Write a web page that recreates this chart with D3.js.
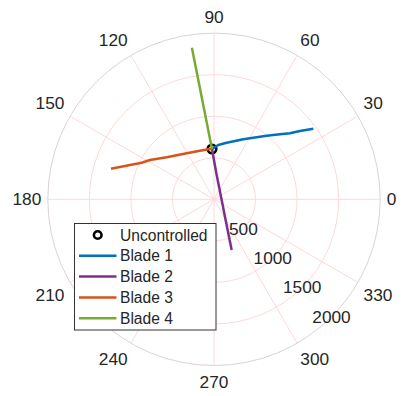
<!DOCTYPE html>
<html>
<head>
<meta charset="utf-8">
<script src="https://cdn.jsdelivr.net/npm/d3@7"></script>
<style>
	body { margin: 0; background: #fff; }
	text { font-family: "Liberation Sans", Arial, sans-serif; fill: #262626; }
</style>
</head>
<body>
<div id="wrapper"></div>
<script>
// data (theta in degrees, r in rpm-ish units)
const thetaTicks = [0, 30, 60, 90, 120, 150, 180, 210, 240, 270, 300, 330];
const rTicks = [500, 1000, 1500, 2000];

const uncontrolledTheta = [92.3];
const uncontrolledR = [606];

const blade1Theta = [92.3, 85.5, 77.4, 64.0, 50.4, 44.6, 41.0, 38.5, 35.4];
const blade1R = [606, 655, 698, 803, 994, 1115, 1211, 1321, 1466];

const blade2Theta = [92.3, 84.4, 2.3, 296.4, 289.2];
const blade2R = [606, 306, 90, 339, 646];

const blade3Theta = [92.3, 96.5, 106.1, 120.7, 138.4, 148.5, 153.2, 157.8, 163.5];
const blade3R = [606, 606, 609, 644, 761, 904, 975, 1092, 1293];

const blade4Theta = [92.3, 96.8, 98.3];
const blade4R = [606, 1222, 1843];

const seriesNames = ["Blade 1", "Blade 2", "Blade 3", "Blade 4"];
const seriesColors = ["#0072bd", "#7e2f8e", "#d95319", "#77ac30"];

function drawPolar() {

	// 1. dimensions
	const width = 402;
	const height = 396;
	const cx = 214;
	const cy = 199.3;
	const radius = 166.2;

	const svg = d3.select("#wrapper")
		.append("svg")
		.attr("width", width)
		.attr("height", height);

	const g = svg.append("g")
		.attr("transform", `translate(${cx},${cy})`);

	// 2. scales
	const rScale = d3.scaleLinear().domain([0, 2000]).range([0, radius]);
	const toRad = d => d * Math.PI / 180;

	// 3. grid
	g.selectAll(".ring")
		.data(rTicks.slice(0, -1))
		.enter()
		.append("circle")
		.attr("r", d => rScale(d))
		.attr("fill", "none")
		.attr("stroke", "#ffd8d8")
		.attr("stroke-width", 1);

	g.selectAll(".spoke")
		.data(thetaTicks)
		.enter()
		.append("line")
		.attr("x1", 0)
		.attr("y1", 0)
		.attr("x2", d => radius * Math.cos(toRad(d)))
		.attr("y2", d => -radius * Math.sin(toRad(d)))
		.attr("stroke", "#ffd8d8")
		.attr("stroke-width", 1);

	g.append("circle")
		.attr("r", radius)
		.attr("fill", "none")
		.attr("stroke", "#ddd2d5")
		.attr("stroke-width", 1);

	// theta labels
	const labelR = radius + 6.5;
	g.selectAll(".tlabel")
		.data(thetaTicks)
		.enter()
		.append("text")
		.attr("class", "tlabel")
		.style("font-size", "17.3px")
		.attr("text-anchor", "middle")
		.attr("dominant-baseline", "central")
		.text(d => d)
		.each(function(d) {
			const w = this.getComputedTextLength();
			const c = Math.cos(toRad(d));
			const s = Math.sin(toRad(d));
			const sx = Math.abs(c) < 1e-6 ? 0 : Math.sign(c);
			const sy = Math.abs(s) < 1e-6 ? 0 : Math.sign(s);
			d3.select(this)
				.attr("x", labelR * c + sx * w / 2)
				.attr("y", -labelR * s - sy * 9.8);
		});

	// r labels along 315 deg
	g.selectAll(".rlabel")
		.data(rTicks)
		.enter()
		.append("text")
		.style("font-size", "17.3px")
		.attr("text-anchor", "middle")
		.attr("dominant-baseline", "central")
		.attr("x", d => rScale(d) * Math.cos(toRad(315)))
		.attr("y", d => -rScale(d) * Math.sin(toRad(315)))
		.text(d => d);

	// 4. data
	const radial = d3.lineRadial()
		.angle(d => Math.PI / 2 - toRad(d[0]))
		.radius(d => rScale(d[1]));

	g.append("circle")
		.attr("cx", rScale(uncontrolledR[0]) * Math.cos(toRad(uncontrolledTheta[0])))
		.attr("cy", -rScale(uncontrolledR[0]) * Math.sin(toRad(uncontrolledTheta[0])))
		.attr("r", 4.3)
		.attr("fill", "none")
		.attr("stroke", "#000")
		.attr("stroke-width", 2.6);

	const blades = [
		d3.zip(blade1Theta, blade1R),
		d3.zip(blade2Theta, blade2R),
		d3.zip(blade3Theta, blade3R),
		d3.zip(blade4Theta, blade4R),
	];

	g.selectAll(".blade")
		.data(blades)
		.enter()
		.append("path")
		.attr("d", radial)
		.attr("fill", "none")
		.attr("stroke", (d, i) => seriesColors[i])
		.attr("stroke-width", 2.5)
		.attr("stroke-linejoin", "round");

	// 5. legend
	const legend = svg.append("g")
		.attr("transform", "translate(74.5,223.5)");

	legend.append("rect")
		.attr("width", 141.5)
		.attr("height", 106.5)
		.attr("fill", "#fff")
		.attr("stroke", "#333")
		.attr("stroke-width", 1);

	const rowY = i => 11.5 + i * 20.8;

	legend.append("circle")
		.attr("cx", 23.2)
		.attr("cy", rowY(0))
		.attr("r", 3.8)
		.attr("fill", "none")
		.attr("stroke", "#000")
		.attr("stroke-width", 2.6);

	legend.selectAll(".lline")
		.data(seriesColors)
		.enter()
		.append("line")
		.attr("x1", 4.5)
		.attr("x2", 42)
		.attr("y1", (d, i) => rowY(i + 1))
		.attr("y2", (d, i) => rowY(i + 1))
		.attr("stroke", d => d)
		.attr("stroke-width", 2.5);

	legend.selectAll(".ltext")
		.data(["Uncontrolled"].concat(seriesNames))
		.enter()
		.append("text")
		.attr("x", 45.5)
		.attr("y", (d, i) => rowY(i))
		.attr("dominant-baseline", "central")
		.style("font-size", "15.6px")
		.text(d => d);
}

drawPolar();
</script>
</body>
</html>
